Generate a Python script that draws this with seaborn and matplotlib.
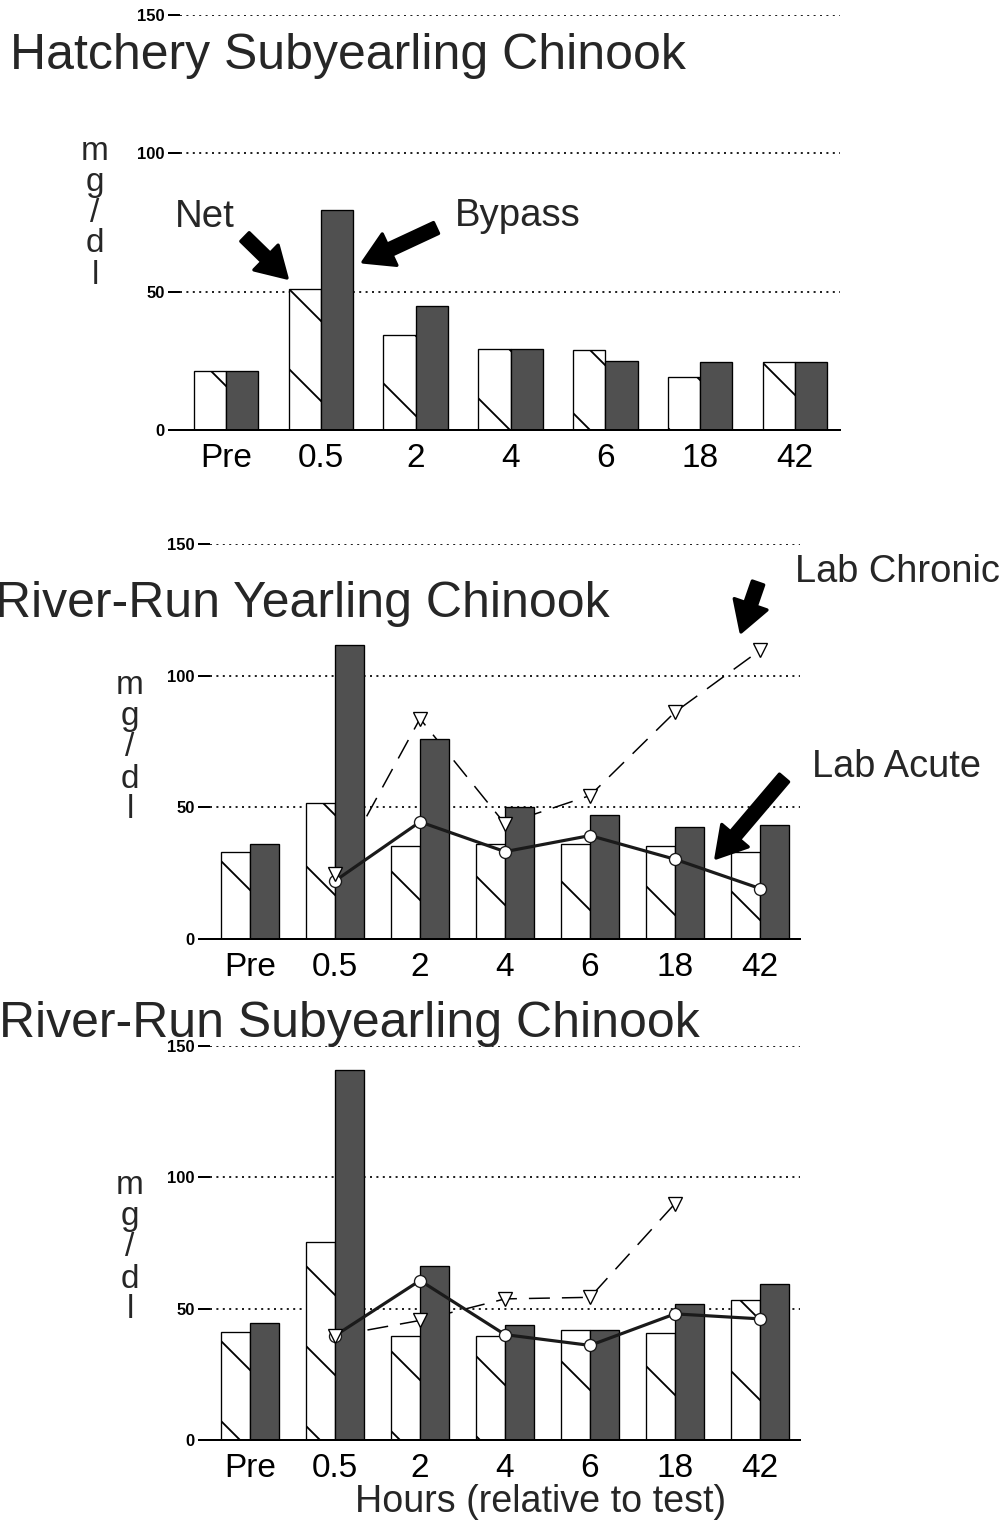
import numpy as np
import pandas as pd
import matplotlib
matplotlib.use("Agg")
import matplotlib.pyplot as plt
import seaborn as sns

# ---------------- data ----------------
categories = ["Pre", "0.5", "2", "4", "6", "18", "42"]
groups = ["Net", "Bypass"]

hatchery_net = [21.4, 51.1, 34.2, 29.4, 28.8, 19.2, 24.4]
hatchery_bypass = [21.4, 79.6, 44.7, 29.4, 24.9, 24.4, 24.4]

yearling_net = [32.9, 51.7, 35.4, 36.1, 36.1, 35.4, 32.9]
yearling_bypass = [36.1, 111.6, 76.0, 50.3, 47.2, 42.4, 43.4]
yearling_acute = [np.nan, 22.1, 44.5, 33.2, 39.3, 30.3, 19.2]
yearling_chronic = [np.nan, 24.6, 83.7, 43.7, 54.5, 86.2, 109.7]

subyearling_net = [41.0, 75.3, 39.4, 39.7, 41.7, 40.6, 53.1]
subyearling_bypass = [44.4, 140.7, 66.4, 43.8, 41.7, 51.8, 59.2]
subyearling_acute = [np.nan, 39.7, 60.7, 40.1, 36.0, 48.0, 46.1]
subyearling_chronic = [np.nan, 39.6, 45.5, 53.7, 54.3, 90.0, np.nan]

y_ticks = [0, 50, 100, 150]
titles = ["Hatchery Subyearling Chinook", "River-Run Yearling Chinook",
          "River-Run Subyearling Chinook"]
y_label = "m\ng\n/\nd\nl"
x_label = "Hours (relative to test)"

# ---------------- style ----------------
sns.set_style("white")
plt.rcParams["font.family"] = ["Liberation Sans", "DejaVu Sans"]
plt.rcParams["hatch.linewidth"] = 0.55

DPI = 240
fig = plt.figure(figsize=(1004 / DPI, 1521 / DPI), dpi=DPI)
fig.patch.set_facecolor("white")

NET_COLOR = "white"
BYP_COLOR = "#505050"


def draw_panel(rect, net, bypass, xlim, acute=None, chronic=None):
    ax = fig.add_axes(rect)
    df = pd.DataFrame({
        "time": categories * 2,
        "group": [groups[0]] * len(categories) + [groups[1]] * len(categories),
        "value": list(net) + list(bypass),
    })
    sns.barplot(data=df, x="time", y="value", hue="group", order=categories,
                hue_order=groups, palette={"Net": NET_COLOR, "Bypass": BYP_COLOR},
                width=0.68, gap=0, saturation=1, edgecolor="black", linewidth=0.4,
                legend=False, ax=ax, zorder=2)
    for p in ax.patches:
        fc = p.get_facecolor()
        if fc[0] > 0.9:
            p.set_hatch("\\")
    xs = np.arange(len(categories))
    if chronic is not None:
        sns.lineplot(x=xs, y=chronic, ax=ax, color="black", linewidth=0.45,
                     linestyle=(0, (14, 8)), zorder=1.5)
        sns.lineplot(x=xs, y=chronic, ax=ax, color="black", linestyle="",
                     marker="v", markersize=4.2, markerfacecolor="white",
                     markeredgecolor="black", markeredgewidth=0.4, zorder=4)
    if acute is not None:
        sns.lineplot(x=xs, y=acute, ax=ax, color="#1a1a1a", linewidth=0.95,
                     marker="o", markersize=3.6, markerfacecolor="white",
                     markeredgecolor="#1a1a1a", markeredgewidth=0.4, zorder=3)
    ax.set_xlim(*xlim)
    ax.set_ylim(0, 150)
    ax.set_yticks(y_ticks)
    ax.set_yticklabels([str(t) for t in y_ticks], fontweight="bold")
    ax.set_xlabel("")
    ax.set_ylabel("")
    ax.set_axisbelow(True)
    ax.grid(axis="y", linestyle=(0, (1, 2.2)), linewidth=0.6, color="#222222")
    ax.grid(axis="x", visible=False)
    for s in ["top", "right", "left"]:
        ax.spines[s].set_visible(False)
    ax.spines["bottom"].set_linewidth(0.6)
    ax.spines["bottom"].set_color("black")
    ax.tick_params(axis="y", length=3.6, width=0.6, pad=1.0, labelsize=5,
                   colors="black", left=True)
    ax.tick_params(axis="x", length=0, pad=4, labelsize=10, colors="black")
    ax.set_facecolor("none")
    return ax


draw_panel([0.1793, 0.7173, 0.6574, 0.2728], hatchery_net, hatchery_bypass,
           (-0.485, 6.475))
draw_panel([0.2092, 0.3826, 0.5876, 0.2597], yearling_net, yearling_bypass,
           (-0.47, 6.47), acute=yearling_acute, chronic=yearling_chronic)
draw_panel([0.2092, 0.0533, 0.5876, 0.2590], subyearling_net, subyearling_bypass,
           (-0.47, 6.47), acute=subyearling_acute, chronic=subyearling_chronic)


def fpt(x_px, y_px):
    return (x_px / 1004, 1 - y_px / 1521)


# titles
fig.text(*fpt(10, 56), titles[0], fontsize=15.0, va="center", ha="left")
fig.text(*fpt(-5, 604), titles[1], fontsize=15.0, va="center", ha="left")
fig.text(*fpt(-1, 1024), titles[2], fontsize=15.0, va="center", ha="left")

# y labels
for (x_px, y_px) in [(95, 213), (130, 748), (130, 1248)]:
    fig.text(*fpt(x_px, y_px), y_label, fontsize=10, ha="center",
             va="center", linespacing=1.0)

fig.text(*fpt(541, 1502), x_label, fontsize=11.3, ha="center", va="center")

# annotations
arrow = dict(arrowstyle="simple,head_width=1.3,head_length=1.1,tail_width=0.45",
             color="black", mutation_scale=8, shrinkA=0, shrinkB=0)

fig.text(*fpt(175, 217), "Net", fontsize=11.5, ha="left", va="center")
fig.text(*fpt(455, 216), "Bypass", fontsize=11.5, ha="left", va="center")
fig.text(*fpt(795, 572), "Lab Chronic", fontsize=11.4, ha="left", va="center")
fig.text(*fpt(812, 767), "Lab Acute", fontsize=11.4, ha="left", va="center")

for tail, head in [((245, 237), (287, 278)), ((436, 228), (363, 262)),
                   ((758, 583), (741, 632)), ((784, 778), (716, 858))]:
    fig.add_artist(matplotlib.patches.FancyArrowPatch(
        fpt(*tail), fpt(*head), transform=fig.transFigure, **arrow))

fig.savefig("out.png", dpi=DPI, facecolor="white")
